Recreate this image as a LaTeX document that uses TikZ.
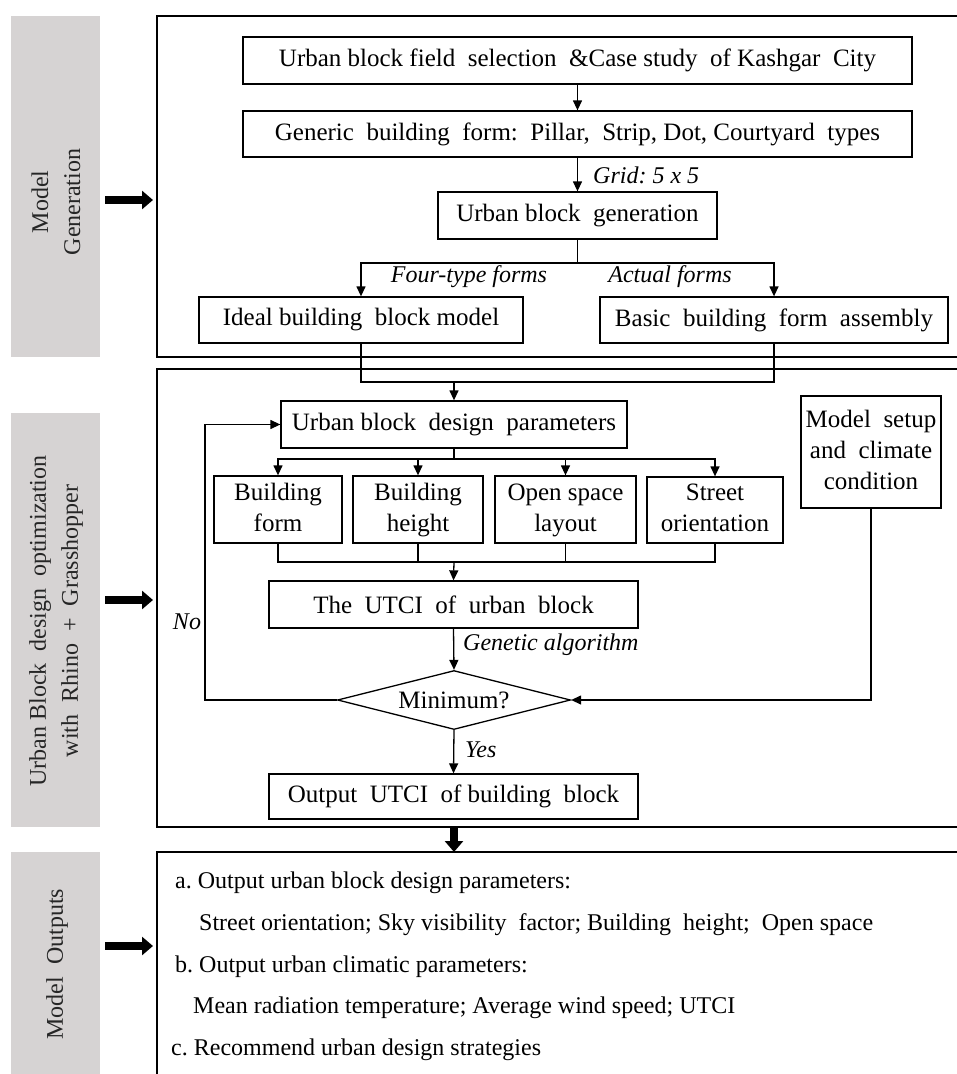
\documentclass[tikz,border=0pt]{standalone}
\usepackage{fontspec}
\setmainfont{Liberation Serif}
\usetikzlibrary{arrows.meta,shapes.geometric,calc}
\definecolor{panelgray}{RGB}{214,211,211}
\frenchspacing
\begin{document}
\begin{tikzpicture}[x=1pt,y=-1pt,
  box/.style={draw, line width=1.3pt, font=\fontsize{25}{31}\selectfont, align=center, inner sep=0pt},
  frame/.style={draw, line width=2.6pt},
  arr/.style={-{Triangle[length=10pt,width=9pt]}, line width=1.3pt},
  ln/.style={line width=1.3pt},
  lab/.style={font=\fontsize{24}{31}\selectfont\itshape, inner sep=0pt},
  txt/.style={font=\fontsize{24}{31}\selectfont, inner sep=0pt, anchor=base west},
  big/.style={-{Triangle[length=11pt,width=18pt]}, line width=8pt},
  panel/.style={fill=panelgray, draw=none, inner sep=0pt},
  plab/.style={rotate=90, font=\fontsize{24}{32}\selectfont, align=center, text=black!85, inner sep=0pt}]
\useasboundingbox (0,0) rectangle (957,1074);
\begin{scope}
\clip (0,0) rectangle (957,1074);
% side panels
\node[panel, minimum width=89pt, minimum height=341pt] (g1) at (55.5,186.5) {};
\node[plab] (t1) at (56,202) {Model\\Generation};
\node[panel, minimum width=89pt, minimum height=414pt] (g2) at (55.5,620) {};
\node[plab] (t2) at (56,621) {Urban Block \ design \ optimization\\with \ Rhino \ + \ Grasshopper};
\node[panel, minimum width=89pt, minimum height=240pt] (g3) at (55.5,972) {};
\node[plab] (t3) at (57,964) {Model \ Outputs};
% frames
\draw[frame] (157,16) rectangle (975,357);
\draw[frame] (157,369) rectangle (975,827);
\draw[frame] (157,852) rectangle (975,1090);
\end{scope}
% thick arrows
\coordinate (a1s) at (105,200); \coordinate (a1e) at (153,200);
\coordinate (a2s) at (105,600); \coordinate (a2e) at (153,600);
\coordinate (a3s) at (105,946); \coordinate (a3e) at (153,946);
\coordinate (a4s) at (454,828); \coordinate (a4e) at (454,852);
\draw[big] (a1s) -- (a1e);
\draw[big] (a2s) -- (a2e);
\draw[big] (a3s) -- (a3e);
\draw[big] (a4s) -- (a4e);
% model generation
\node[box, minimum width=669pt, minimum height=47pt] (b1) at (577.5,60.5) {Urban block field \ selection \ \&Case study \ of Kashgar \ City};
\node[box, minimum width=669pt, minimum height=46pt] (b2) at (577.5,134) {Generic \ building \ form: \ Pillar, \ Strip, Dot, Courtyard \ types};
\node[box, minimum width=279pt, minimum height=47pt] (b3) at (577.5,215.5) {Urban block \ generation};
\node[box, minimum width=324pt, minimum height=46pt] (b4) at (361,320) {Ideal building \ block model};
\node[box, minimum width=348pt, minimum height=46pt] (b5) at (774,320) {Basic \ building \ form \ assembly};
\draw[arr] (b1.south) -- (b2.north);
\draw[arr] (b2.south) -- (b3.north);
\node[lab, anchor=west] (lgrid) at (593,175) {Grid: 5 x 5};
\coordinate (s1) at (577.5,263);
\draw[ln] (b3.south) -- (s1);
\draw[arr] (s1) -| (b4.north);
\draw[arr] (s1) -| (b5.north);
\node[lab] (lfour) at (469,277) {Four-type forms};
\node[lab] (lact) at (670,277) {Actual forms};
% optimization
\node[box, minimum width=346pt, minimum height=47pt] (b6) at (454,424.5) {Urban block \ design \ parameters};
\coordinate (m1) at (454,382);
\draw[ln] (b4.south) |- (b5.south |- m1) -- (b5.south);
\draw[arr] (m1) -- (b6.north);
\node[box, minimum width=128pt, minimum height=67pt] (b7) at (278,509.5) {\strut Building\\\strut form};
\node[box, minimum width=130pt, minimum height=67pt] (b8) at (418,509.5) {\strut Building\\\strut height};
\node[box, minimum width=141pt, minimum height=67pt] (b9) at (565.5,509.5) {\strut Open space\\\strut layout};
\node[box, minimum width=136pt, minimum height=66pt] (b10) at (715,510) {\strut Street\\\strut orientation};
\node[box, minimum width=140pt, minimum height=112pt] (b12) at (871,452) {\strut Model \ setup\\\strut and \ climate\\\strut condition};
\coordinate (m2) at (454,459);
\draw[ln] (b6.south) -- (m2);
\draw[arr] (m2) -| (b7.north);
\draw[arr] (m2) -| (b8.north);
\draw[arr] (m2) -| (b9.north);
\draw[arr] (m2) -| (b10.north);
\node[box, minimum width=369pt, minimum height=47pt] (b11) at (453.5,604.5) {The \ UTCI \ of \ urban \ block};
\coordinate (m3) at (454,562);
\draw[ln] (b7.south) |- (b10.south |- m3) -- (b10.south);
\draw[ln] (b8.south) -- (b8.south |- m3);
\draw[ln] (b9.south) -- (b9.south |- m3);
\draw[arr] (m3) -- (b11.north);
\node[box, shape=diamond, aspect=3.95, minimum width=233pt, minimum height=59pt] (d) at (454,700) {Minimum?};
\draw[arr] (b11.south) -- (d.north);
\node[lab, anchor=west] (lgen) at (463,645) {Genetic algorithm};
\coordinate (noc) at (205,424.5);
\draw[arr] (d.west) -| (noc) -- (b6.west);
\node[lab] (lno) at (187,622) {No};
\draw[arr] (b12.south) |- (d.east);
\node[box, minimum width=369pt, minimum height=45pt] (b13) at (453.5,796.5) {Output \ UTCI \ of building \ block};
\draw[arr] (d.south) -- (b13.north);
\node[lab, anchor=west] (lyes) at (465,750) {Yes};
% outputs
\node[txt] (o1) at (175,888) {a. Output urban block design parameters:};
\node[txt] (o2) at (199,930) {Street orientation; Sky visibility \ factor; Building \ height; \ Open space};
\node[txt] (o3) at (175,972) {b. Output urban climatic parameters:};
\node[txt] (o4) at (193,1013) {Mean radiation temperature; Average wind speed; UTCI};
\node[txt] (o5) at (171,1055) {c. Recommend urban design strategies};
\end{tikzpicture}
\end{document}
